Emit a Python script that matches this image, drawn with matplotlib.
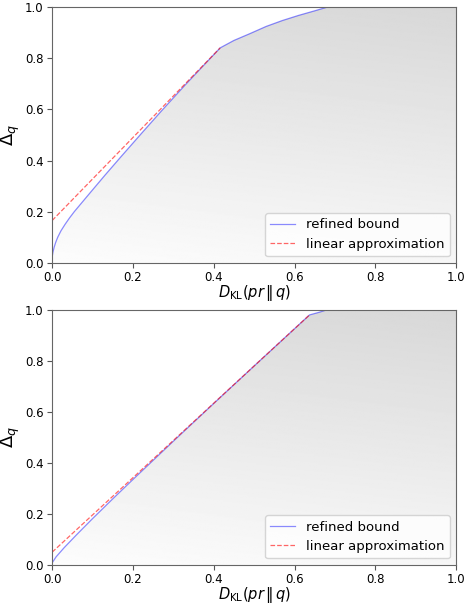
import numpy as np
import matplotlib
matplotlib.use("Agg")
import matplotlib.pyplot as plt
from matplotlib.patches import Polygon

# top panel: refined bound
top_x = [0.0, 0.002, 0.005, 0.009, 0.014, 0.022, 0.032, 0.043, 0.055, 0.09, 0.13, 0.17,
         0.22, 0.27, 0.33, 0.416, 0.45, 0.49, 0.53, 0.57, 0.61, 0.65, 0.68]
top_y = [0.02, 0.04, 0.06, 0.08, 0.10, 0.125, 0.15, 0.175, 0.20, 0.266, 0.341, 0.414,
         0.504, 0.593, 0.697, 0.841, 0.87, 0.897, 0.925, 0.948, 0.968, 0.986, 1.0]
top_lin_x = [0.0, 0.416]
top_lin_y = [0.165, 0.841]

# bottom panel
bot_x = [0.0, 0.01, 0.03, 0.06, 0.1, 0.15, 0.2, 0.3, 0.4, 0.5, 0.637, 0.66, 0.68]
bot_y = [0.008, 0.032, 0.068, 0.1175, 0.1815, 0.259, 0.335, 0.485, 0.633, 0.78, 0.98, 0.99, 1.0]
bot_lin_x = [0.0, 0.637]
bot_lin_y = [0.05, 0.98]

ticks = [0.0, 0.2, 0.4, 0.6, 0.8, 1.0]


def draw(ax, cx, cy, lx, ly):
    # gray gradient region under the bound
    gx, gy = np.meshgrid(np.linspace(0, 1, 200), np.linspace(0, 1, 200))
    shade = 0.99 - 0.12 * gy - 0.025 * gx
    img = ax.imshow(shade, extent=[0, 1, 0, 1], origin="lower", cmap="gray",
                    vmin=0, vmax=1, aspect="auto", zorder=0)
    poly = list(zip(cx, cy)) + [(1, 1), (1, 0), (0, 0)]
    patch = Polygon(poly, closed=True, facecolor="none", edgecolor="none")
    ax.add_patch(patch)
    img.set_clip_path(patch)

    ax.plot(cx, cy, color="blue", alpha=0.45, lw=0.9, label="refined bound")
    ax.plot(lx, ly, color="red", alpha=0.6, lw=0.9, ls="--", label="linear approximation")
    ax.set_xlim(0, 1)
    ax.set_ylim(0, 1)
    ax.set_xticks(ticks)
    ax.set_yticks(ticks)
    ax.tick_params(labelsize=8.5, color="#555555", pad=2.5)
    for s in ax.spines.values():
        s.set_color("#666666")
    ax.set_xlabel(r"$D_{\mathrm{KL}}(pr\,\|\,q)$", fontsize=10.5, labelpad=-1)
    ax.set_ylabel(r"$\Delta_q$", fontsize=13, labelpad=2)
    ax.legend(loc="lower right", fontsize=9.5, handlelength=1.9)


fig = plt.figure(figsize=(4.65, 6.04), dpi=100)
ax1 = fig.add_axes([0.112, 0.565, 0.869, 0.423])
ax2 = fig.add_axes([0.112, 0.0646, 0.869, 0.4224])
draw(ax1, top_x, top_y, top_lin_x, top_lin_y)
draw(ax2, bot_x, bot_y, bot_lin_x, bot_lin_y)

fig.savefig("out.png", dpi=100)
